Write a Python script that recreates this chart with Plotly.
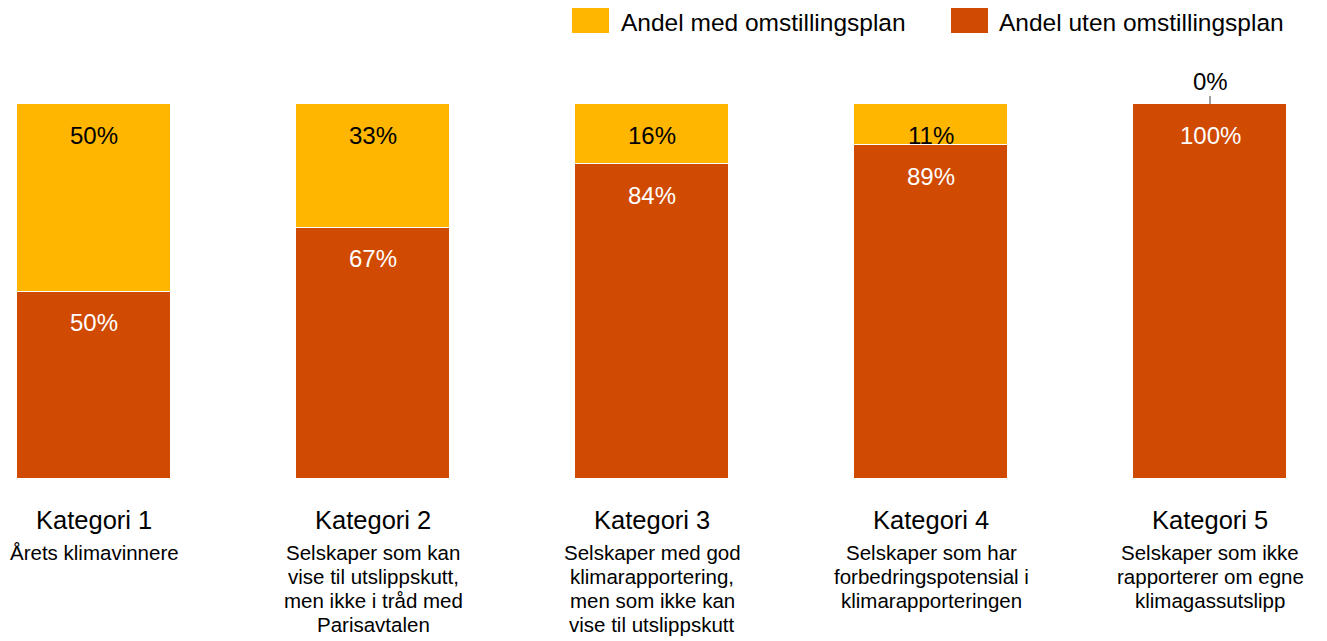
import plotly.graph_objects as go

categories = ["Kategori 1", "Kategori 2", "Kategori 3", "Kategori 4", "Kategori 5"]
descriptions = [
    ["Årets klimavinnere"],
    ["Selskaper som kan", "vise til utslippskutt,", "men ikke i tråd med", "Parisavtalen"],
    ["Selskaper med god", "klimarapportering,", "men som ikke kan", "vise til utslippskutt"],
    ["Selskaper som har", "forbedringspotensial i", "klimarapporteringen"],
    ["Selskaper som ikke", "rapporterer om egne", "klimagassutslipp"],
]
med_plan = [50, 33, 16, 11, 0]
uten_plan = [50, 67, 84, 89, 100]
series_names = ["Andel med omstillingsplan", "Andel uten omstillingsplan"]

YELLOW = "#FFB600"
RED = "#D04A02"
FONT = "Liberation Sans, Arial, sans-serif"

W, H = 1327, 641
OFF = 8  # page body margin
T, B = 104 - OFF, H - (479 - OFF)

fig = go.Figure()
fig.add_trace(go.Bar(
    x=categories, y=uten_plan, name=series_names[1],
    marker=dict(color=RED, line=dict(color="white", width=1.5)),
    width=0.552, hoverinfo="skip", showlegend=False,
))
fig.add_trace(go.Bar(
    x=categories, y=med_plan, name=series_names[0],
    marker=dict(color=YELLOW, line=dict(color="white", width=1.5)),
    width=0.552, hoverinfo="skip", showlegend=False,
))

annotations = []
for i, cat in enumerate(categories):
    annotations.append(dict(
        x=cat, y=uten_plan[i], xref="x", yref="y", text=f"{uten_plan[i]}%",
        showarrow=False, yanchor="middle", yshift=-31,
        font=dict(family=FONT, size=24, color="white"),
    ))
    top = uten_plan[i] + med_plan[i]
    if med_plan[i] > 0:
        annotations.append(dict(
            x=cat, y=top, xref="x", yref="y", text=f"{med_plan[i]}%",
            showarrow=False, yanchor="middle", yshift=-31,
            font=dict(family=FONT, size=24, color="black"),
        ))
    else:
        annotations.append(dict(
            x=cat, y=top, xref="x", yref="y", text=f"{med_plan[i]}%",
            showarrow=True, arrowhead=0, arrowwidth=1, arrowcolor="#404040",
            ax=0, ay=-23, standoff=0,
            font=dict(family=FONT, size=24, color="black"),
        ))
    annotations.append(dict(
        x=cat, y=0, xref="x", yref="paper", text=cat, showarrow=False,
        yanchor="middle", yshift=-41,
        font=dict(family=FONT, size=25.5, color="black"),
    ))
    for j, line in enumerate(descriptions[i]):
        annotations.append(dict(
            x=cat, y=0, xref="x", yref="paper", text=line, showarrow=False,
            yanchor="middle", yshift=-(73 + 24 * j),
            font=dict(family=FONT, size=20.5, color="black"),
        ))

plot_h = H - T - B
legend_items = [(series_names[0], YELLOW, 572 - OFF, 620 - OFF), (series_names[1], RED, 951 - OFF, 998 - OFF)]
shapes = []
for name, col, sx, tx in legend_items:
    shapes.append(dict(
        type="rect", xref="paper", yref="paper",
        x0=sx / W, x1=(sx + 37) / W,
        y0=1 + (T - (33 - OFF)) / plot_h, y1=1 + (T - (7 - OFF)) / plot_h,
        fillcolor=col, line=dict(width=0),
    ))
    annotations.append(dict(
        x=tx / W, y=1 + (T - 14.5) / plot_h, xref="paper", yref="paper",
        text=name, showarrow=False, xanchor="left", yanchor="middle", borderpad=0,
        font=dict(family=FONT, size=24.5, color="black"),
    ))

c0 = 94 - OFF
step = 279
fig.update_layout(
    barmode="stack",
    width=W, height=H,
    margin=dict(l=0, r=0, t=T, b=B),
    paper_bgcolor="white", plot_bgcolor="white",
    bargap=0,
    xaxis=dict(range=[-c0 / step, 4 + (W - (c0 + 4 * step)) / step], showticklabels=False,
               showgrid=False, zeroline=False, showline=False, ticks=""),
    yaxis=dict(range=[0, 100], visible=False, showgrid=False, zeroline=False),
    annotations=annotations,
    shapes=shapes,
    showlegend=False,
)

fig.write_html("out.html")
